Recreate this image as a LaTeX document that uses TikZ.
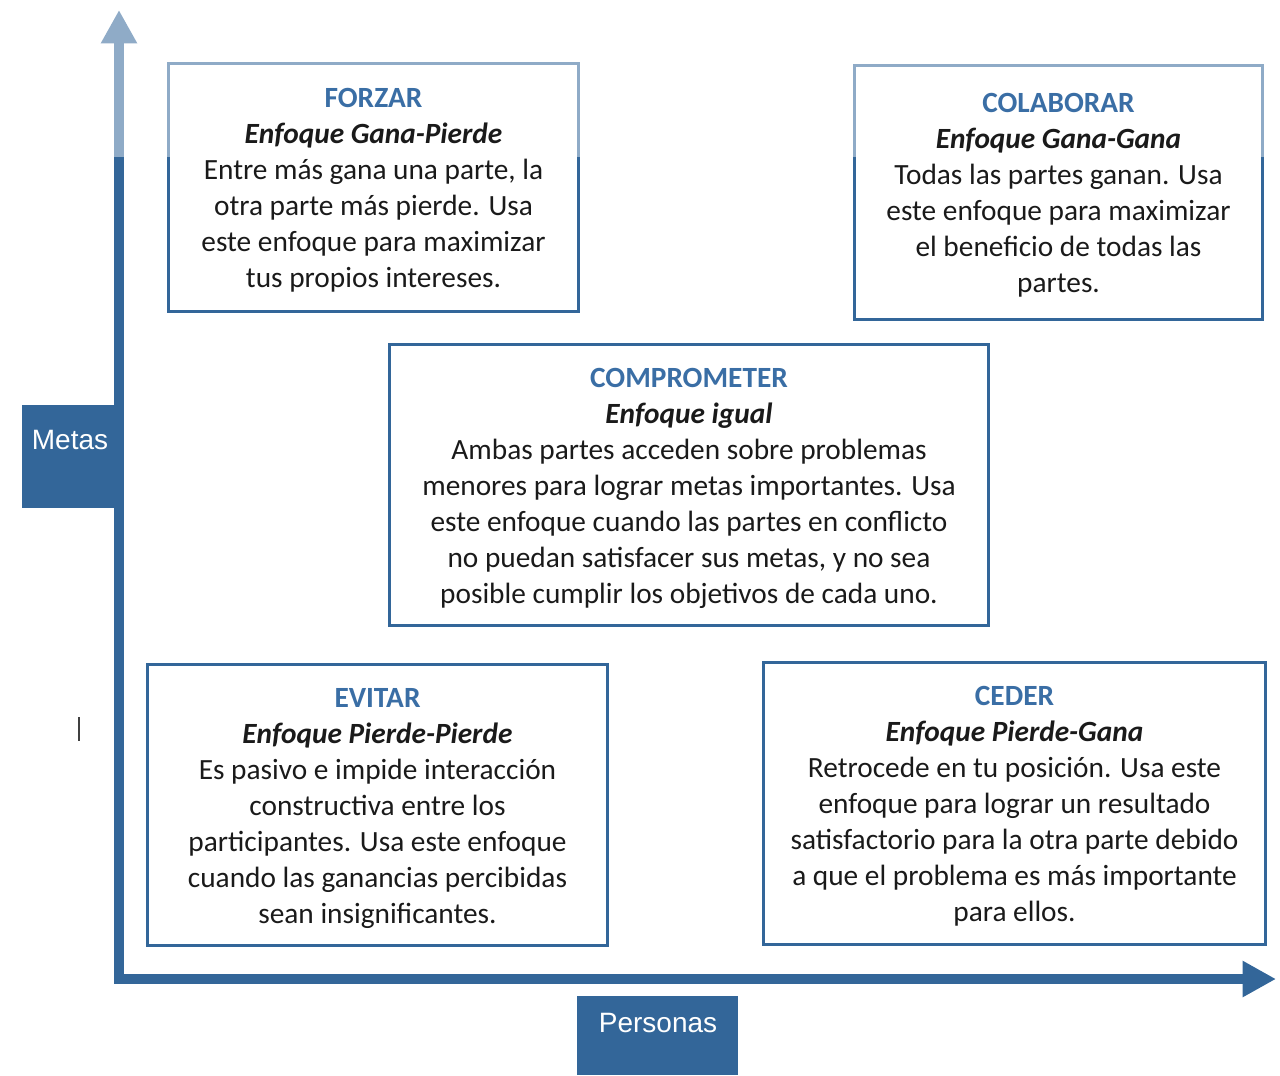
\documentclass[tikz,border=0pt]{standalone}
\usepackage{fontspec}
\setmainfont{Carlito}
\newfontfamily\labelfont{Liberation Sans}
\usetikzlibrary{arrows.meta}
\definecolor{axisblue}{RGB}{51,102,153}
\definecolor{titleblue}{RGB}{58,110,165}
\definecolor{bodytext}{RGB}{26,26,26}
\pgfdeclarelayer{back}
\pgfdeclarelayer{wash}
\pgfsetlayers{back,wash,main}
\tikzstyle{card} = [rectangle, align=center, inner sep=0pt, text=bodytext,
    font=\fontsize{22}{27}\selectfont]
\tikzstyle{cardline} = [draw=axisblue, line width=2.25pt]
\tikzstyle{axisline} = [draw=axisblue, line width=7.8pt, line join=miter]
\tikzstyle{tag} = [rectangle, fill=axisblue, inner sep=0pt]
\tikzstyle{tagtext} = [text=white, font=\labelfont\fontsize{21}{25}\selectfont]
\newcommand{\cardhead}[2]{{\bfseries\color{titleblue}#1}\\{\bfseries\itshape #2}}

\begin{document}
\begin{tikzpicture}[x=0.75pt, y=-0.75pt, >={Triangle[width=25.5pt,length=25pt]}]
\useasboundingbox (0,0) rectangle (1280,1075);

% approaches (text sits 3px below the frame centre)
\node [card, minimum width=306.75pt, minimum height=186pt] (forzar) at (373.5,190.5)
  {\cardhead{FORZAR}{Enfoque Gana-Pierde}\\Entre más gana una parte, la\\otra parte más pierde. Usa\\este enfoque para maximizar\\tus propios intereses.};
\node [card, minimum width=305.25pt, minimum height=189.75pt] (colaborar) at (1058.5,195.5)
  {\cardhead{COLABORAR}{Enfoque Gana-Gana}\\Todas las partes ganan. Usa\\este enfoque para maximizar\\el beneficio de todas las\\partes.};
\node [card, minimum width=448.5pt, minimum height=210pt] (comprometer) at (689,488)
  {\cardhead{COMPROMETER}{Enfoque igual}\\Ambas partes acceden sobre problemas\\menores para lograr metas importantes. Usa\\este enfoque cuando las partes en conflicto\\no puedan satisfacer sus metas, y no sea\\posible cumplir los objetivos de cada uno.};
\node [card, minimum width=344.25pt, minimum height=210pt] (evitar) at (377.5,808)
  {\cardhead{EVITAR}{Enfoque Pierde-Pierde}\\Es pasivo e impide interacción\\constructiva entre los\\participantes. Usa este enfoque\\cuando las ganancias percibidas\\sean insignificantes.};
\node [card, minimum width=375.75pt, minimum height=210.75pt] (ceder) at (1014.5,806.5)
  {\cardhead{CEDER}{Enfoque Pierde-Gana}\\Retrocede en tu posición. Usa este\\enfoque para lograr un resultado\\satisfactorio para la otra parte debido\\a que el problema es más importante\\para ellos.};

% axes
\coordinate (ytop) at (119,10);
\coordinate (origin) at (119,979);
\coordinate (xend) at (1276,979);
\node [tag, minimum width=69.75pt, minimum height=77.25pt] (metas) at (68.5,456.5) {};
\node [tagtext] (metaslabel) at (70,440) {Metas};
\node [tag, minimum width=120.75pt, minimum height=59.25pt] (personas) at (657.5,1035.5) {};
\node [tagtext] (personaslabel) at (658,1023) {Personas};

\begin{pgfonlayer}{back}
\foreach \n in {forzar,colaborar,comprometer,evitar,ceder}
  \draw [cardline] ([yshift=2.25pt]\n.south west) rectangle ([yshift=2.25pt]\n.north east);
\draw [axisline, <->] (ytop) -- (origin) -- (xend);
\end{pgfonlayer}

% faded top strip
\begin{pgfonlayer}{wash}
\fill [white, opacity=0.45] (0,0) rectangle (1280,157);
\end{pgfonlayer}

\draw [line width=1.3pt, black!75] (79,717) -- (79,741);

\end{tikzpicture}
\end{document}
